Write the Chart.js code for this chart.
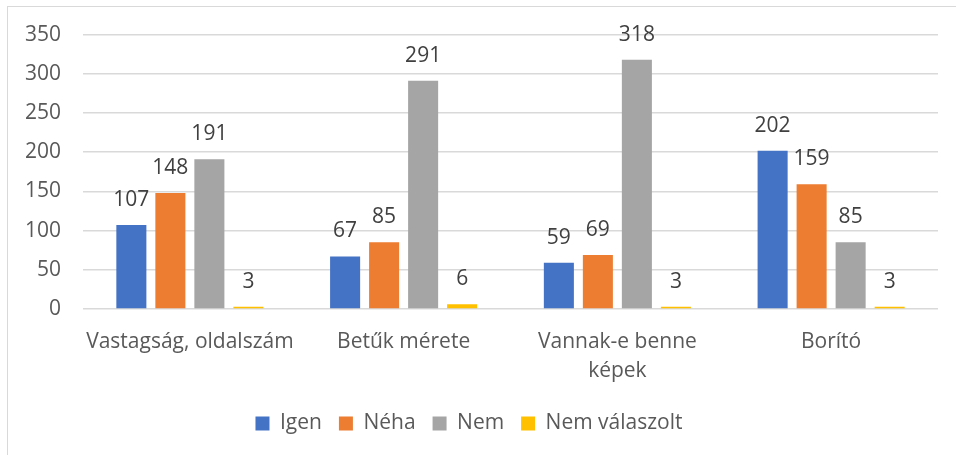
<!DOCTYPE html>
<html>
<head>
<meta charset="utf-8">
<script src="https://cdn.jsdelivr.net/npm/chart.js@4/dist/chart.umd.min.js"></script>
<style>
  html, body { margin: 0; padding: 0; background: #fff; }
  #wrap { position: absolute; left: 0; top: 0; width: 956px; height: 455px; }
  #frame { position: absolute; left: 7px; top: 6px; width: 960px; height: 460px;
           border-left: 1px solid #d9d9d9; border-top: 1px solid #d9d9d9; }
</style>
</head>
<body>
<div id="wrap">
  <div id="frame"></div>
  <canvas id="chart1" width="956" height="455"></canvas>
</div>
<script>
'use strict';

var categories = [
  'Vastagság, oldalszám',
  'Betűk mérete',
  ['Vannak-e benne', 'képek'],
  'Borító'
];
var igen = [107, 67, 59, 202];
var neha = [148, 85, 69, 159];
var nem = [191, 291, 318, 85];
var nemValaszolt = [3, 6, 3, 3];

var FONT = '"Open Sans", "Noto Sans", sans-serif';
var FSIZE = 21;

// draws the value above each bar, positions come from the bar elements
var valueLabels = {
  id: 'valueLabels',
  afterDatasetsDraw: function (chart) {
    var ctx = chart.ctx;
    ctx.save();
    ctx.font = FSIZE + 'px ' + FONT;
    ctx.fillStyle = '#404040';
    ctx.textAlign = 'center';
    ctx.textBaseline = 'middle';
    chart.data.datasets.forEach(function (ds, i) {
      chart.getDatasetMeta(i).data.forEach(function (bar, j) {
        ctx.fillText(String(ds.data[j]), bar.x, bar.y - 25);
      });
    });
    ctx.restore();
  }
};

function renderChart() {
  var ctx = document.getElementById('chart1').getContext('2d');
  new Chart(ctx, {
    type: 'bar',
    data: {
      labels: categories,
      datasets: [
        { label: 'Igen', data: igen, backgroundColor: '#4472C4' },
        { label: 'Néha', data: neha, backgroundColor: '#ED7D31' },
        { label: 'Nem', data: nem, backgroundColor: '#A5A5A5' },
        { label: 'Nem válaszolt', data: nemValaszolt, backgroundColor: '#FFC000' }
      ]
    },
    options: {
      responsive: false,
      animation: false,
      events: [],
      layout: { padding: { top: 31, right: 18, bottom: 11, left: 0 } },
      datasets: { bar: { categoryPercentage: 0.73, barPercentage: 0.77 } },
      scales: {
        x: {
          grid: { display: false },
          border: { display: false },
          ticks: { color: '#595959', font: { family: FONT, size: FSIZE, lineHeight: 1.4 }, padding: 10, maxRotation: 0 },
          afterFit: function (scale) { scale.height = 87; }
        },
        y: {
          min: 0,
          max: 350,
          ticks: { stepSize: 50, color: '#595959', font: { family: FONT, size: FSIZE }, padding: 22 },
          grid: { color: '#d9d9d9', lineWidth: 1.5, drawTicks: false },
          border: { display: false },
          afterFit: function (scale) { scale.width = 83; }
        }
      },
      plugins: {
        legend: {
          position: 'bottom',
          labels: {
            color: '#595959',
            font: { family: FONT, size: FSIZE },
            boxWidth: 14,
            boxHeight: 14,
            padding: 17
          }
        },
        tooltip: { enabled: false }
      }
    },
    plugins: [valueLabels]
  });
}

renderChart();
</script>
</body>
</html>
